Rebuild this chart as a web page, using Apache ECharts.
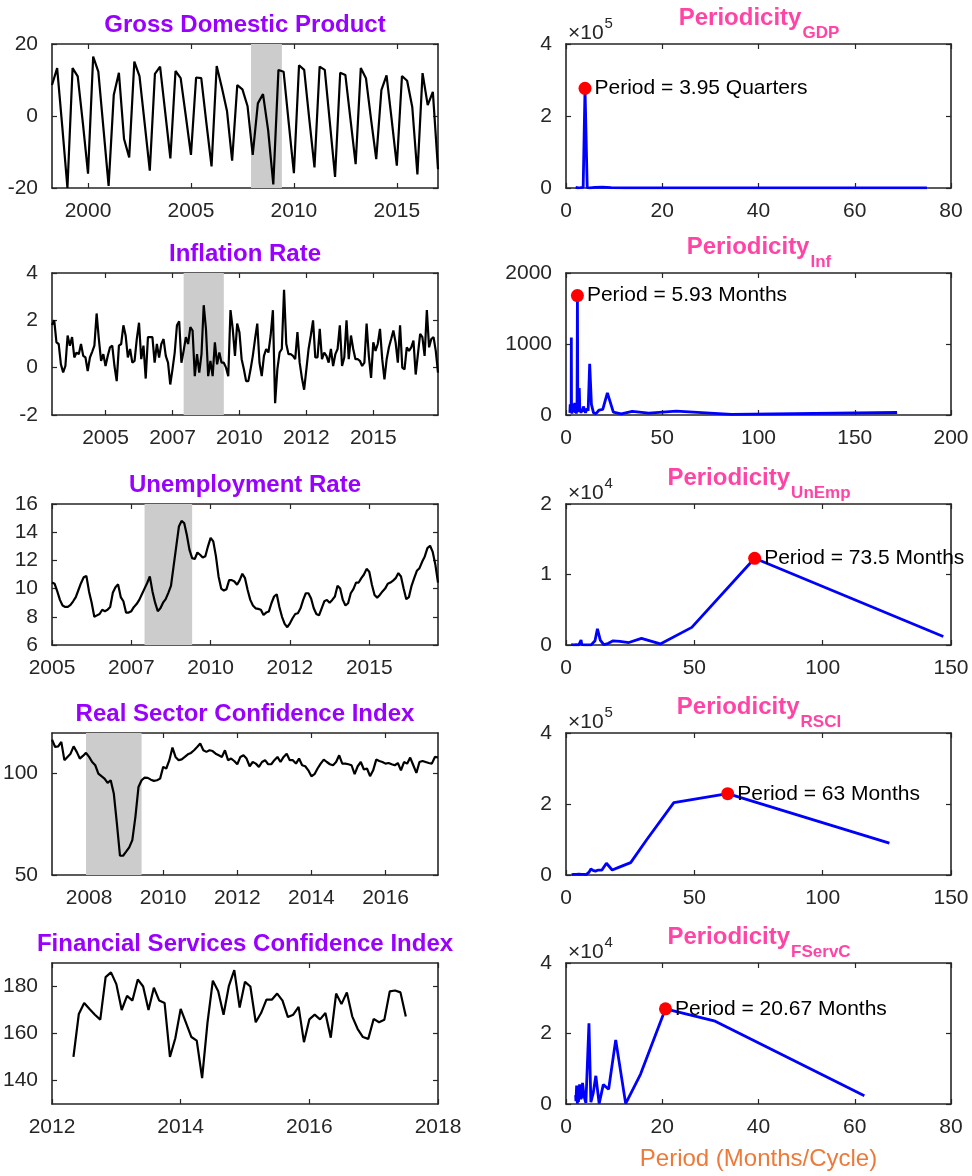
<!DOCTYPE html>
<html><head><meta charset="utf-8">
<script src="https://cdn.jsdelivr.net/npm/echarts@6/dist/echarts.min.js"></script>
<style>html,body{margin:0;padding:0;background:#fff}#c{width:972px;height:1176px}</style>
</head><body><div id="c"></div>
<script>
// ---------------- DATA ----------------
const recession = [2007.917, 2009.417];

// GDP (quarterly)
const gdpStart = 1998.25, gdpPerYear = 4;
const gdpValues = [8.6,13.3,-3,-20,13.3,11,-2,-16,16.5,12.3,-3.5,-19.4,5.8,12,-6.4,-11.5,15.1,11.1,-2,-15.2,
  11.7,13.7,1,-11.8,12.5,10.5,0,-10.8,10.7,10.5,-2,-14,13.9,7.9,1.4,-12.4,8.6,7.4,2.7,-10.8,
  3.5,6.1,-4,-19,12.8,12.3,-2,-15.9,14.1,12.8,-1,-14.3,13.7,12.8,-2,-16.9,12,11.4,-1,-13.4,
  13.3,10.5,-1,-12,7.2,11.3,-1,-13.8,11.1,9.8,2.5,-16.2,11.9,3,6.7,-14.8];

// Inflation (monthly)
const infStart = 2003.0, infPerYear = 12;
const infValues = [1.8,2.0,1.07,1.0,0.14,-0.2,0.07,1.36,0.93,1.29,
  0.43,0.64,0.57,1.0,0.5,0.43,-0.14,0.43,0.67,0.93,
  2.29,1.21,0.29,0.57,0.07,0.5,0.86,0.93,0.07,-0.57,
  0.93,1.0,1.79,1.36,0.43,0.79,0.21,0.29,1.21,1.9,
  0.36,0.93,-0.46,1.29,1.29,1.29,0.21,1.0,0.43,1.0,
  1.21,0.5,0.21,-0.71,-0.07,0.64,1.79,1.96,0.21,0.71,
  1.29,1.0,1.71,1.57,-0.36,0.57,-0.21,0.57,2.64,1.64,
  -0.36,0.29,-0.36,1.07,0.14,0.64,0.21,0.21,0.0,-0.36,
  2.43,1.64,0.5,1.86,1.5,0.36,-0.07,-0.57,-0.57,-0.07,
  0.5,1.21,1.86,0.21,-0.36,0.5,0.79,0.64,1.36,2.43,
  -1.5,-0.07,0.64,0.79,3.29,1.0,0.57,0.57,0.5,0.36,
  1.5,0.21,-0.43,-0.93,-0.07,0.79,1.36,2.0,0.43,0.43,
  1.64,0.36,0.64,0.5,0.21,0.79,0.07,0.57,0.79,1.79,
  0.07,0.43,2.0,0.36,1.36,0.79,0.36,0.36,0.29,0.07,
  0.21,1.86,0.5,-0.43,1.07,0.71,1.0,1.64,0.36,-0.5,
  0.36,0.86,1.21,1.57,1.07,0.21,1.79,0.0,-0.07,0.86,
  0.71,0.86,1.14,-0.29,0.57,1.43,1.29,0.5,2.43,0.86,
  1.21,1.29,0.71,-0.21];

// Unemployment (monthly)
const unStart = 2005.0, unPerYear = 12;
const unValues = [10.43,10.34,9.8,9.2,8.8,8.7,8.7,8.84,9.1,9.4,
  9.9,10.4,10.8,10.9,9.8,9.0,8.0,8.1,8.2,8.5,
  8.4,8.5,8.7,9.7,10.1,10.3,9.4,9.1,8.3,8.3,
  8.4,8.7,8.9,9.2,9.6,10.0,10.4,10.86,9.8,9.0,
  8.4,8.6,9.0,9.25,9.7,10.2,11.6,13.0,14.4,14.8,
  14.65,13.8,12.75,12.16,12.1,12.56,12.4,12.2,12.3,13.0,
  13.6,13.35,12.3,10.86,10.0,9.86,9.96,10.6,10.6,10.5,
  10.27,10.6,11.05,10.74,9.9,9.2,8.8,8.6,8.56,8.5,
  8.13,8.3,8.37,8.96,9.44,9.6,8.7,8.0,7.5,7.26,
  7.54,7.9,8.2,8.25,8.6,9.2,9.67,9.67,9.3,8.6,
  8.2,8.1,8.6,9.1,9.2,9.0,9.2,9.44,10.2,10.0,
  9.2,8.8,8.96,9.67,9.96,10.43,10.43,10.74,11.0,11.4,
  11.2,10.27,9.55,9.36,9.55,9.8,10.0,10.34,10.43,10.57,
  10.74,11.1,10.86,10.0,9.25,9.4,10.2,10.74,11.26,11.45,
  11.9,12.28,12.87,13.04,12.6,11.7,10.43];

// Real Sector Confidence Index (monthly)
const rsStart = 2007.0, rsPerYear = 12;
const rsValues = [116.7,113.1,113.4,115.6,106.6,108.2,109.8,113.4,110.7,107.4,
  108.7,110.2,108.2,105.7,104.1,100,98.7,97.5,95.4,96.7,
  90.2,75.4,59.5,59.5,61.5,63.6,67.2,78.7,93.4,96.7,
  98.0,97.9,97.0,96.4,96.7,97.5,103.3,102.5,106.6,112.8,
  108.2,106.6,107.0,108.2,109.5,110.2,111.5,113.1,114.8,111.5,
  110.7,111.5,111.1,109.8,109.0,108.2,111.5,106.6,107.4,
  106.2,104.6,108.2,109.0,107.4,103.6,105.7,104.9,103.3,
  105.7,106.6,104.6,104.6,106.6,108.2,105.7,108.2,109.8,106.6,
  106.6,104.9,107.4,104.1,103.6,101.6,98.7,99.7,102.5,104.9,
  106.9,105.7,104.6,104.1,105.7,109.0,104.9,104.9,104.6,104.1,
  99.7,103.6,105.7,102.0,102.5,98.7,101.6,106.9,106.2,
  105.7,104.9,105.2,104.6,104.1,105.2,101.6,105.7,
  104.9,107.9,104.1,100.3,105.7,106.2,105.7,105.2,104.9,108.2,
  107.9];

// Financial Services Confidence Index (monthly)
const fsStart = 2012.333, fsPerYear = 12;
const fsValues = [150.1,168.3,173,170.4,168,165.9,184,186,181,170,
  176,174,183,180,170,179.5,174,173,150,158,
  170.5,164.5,158.5,157,141,164.5,182.5,178,168,180.3,
  187,171,182,180,164.8,168.7,174.4,174.4,177,174,
  167,168,171.3,156.3,166,168,166,168.7,158.2,177,
  172.5,177.5,167.3,162,158.5,157.7,166.2,164.8,165.9,177.9,
  178.3,177.5,167.2];

// Periodograms: period (x) and power (y)
const gdpPeriod = [2.0,2.5,3.0,3.57,3.95,4.41,5.0,6.0,7.5,9.4,12.5,18.75,25,37.5,75];
const gdpPower  = [2000,500,800,1500,277000,1000,500,1500,2500,800,500,300,200,300,400];
const gdpPeak = [3.95, 277000], gdpPeakText = 'Period = 3.95 Quarters';

const infPeriod = [2.0,2.2,2.4,2.67,2.77,2.87,3.1,3.4,3.7,4.0,4.3,4.6,4.9,5.06,5.21,5.38,5.55,5.73,5.93,6.14,
  6.37,6.62,6.88,7.17,7.48,7.82,8.19,8.6,9.05,9.56,10.1,10.8,11.5,12.3,13.2,14.3,15.6,17.2,19.1,21.5,
  24.6,28.7,34.4,43,57.3,86,172];
const infPower  = [30,150,120,40,1090,60,20,160,40,120,60,170,30,150,50,20,100,60,1682,40,
  120,50,380,100,90,30,80,50,120,100,30,90,60,720,150,30,20,70,80,310,
  40,15,50,25,55,10,35];
const infPeak = [5.93, 1682], infPeakText = 'Period = 5.93 Months';

const unPeriod = [2.0,3,4,5,5.65,5.88,6.13,7,8,9,9.8,10.5,11.3,12.25,13.36,14.7,16.33,18.375,21,24.5,29.4,36.75,49,73.5,147];
const unPower  = [50,30,40,30,50,700,40,30,20,30,20,50,600,2300,700,50,200,600,500,350,950,150,2500,12300,1200];
const unPeak = [73.5, 12300], unPeakText = 'Period = 73.5 Months';

const rsPeriod = [2.2,3,4,5,6,7,7.875,8.4,9,9.69,10.5,11.45,12.6,14,15.75,18,21,25.2,31.5,42,63,126];
const rsPower  = [1000,2000,1500,2500,1500,2000,1000,5000,8000,17000,13000,11000,14000,14000,33000,14000,23000,35000,100000,204000,229000,90000];
const rsPeak = [63, 229000], rsPeakText = 'Period = 63 Months';

const fsPeriod = [2.0,2.07,2.14,2.21,2.3,2.38,2.48,2.58,2.7,2.82,2.95,3.1,3.26,3.44,3.65,3.875,4.13,4.43,4.77,5.17,
  5.64,6.2,6.89,7.75,8.86,10.33,12.4,15.5,20.67,31,62];
const fsPower  = [2500,800,3000,5200,1500,100,5200,600,2500,5600,3000,1400,2000,6000,3500,1500,300,200,22900,500,
  3000,8000,100,5500,4200,18200,100,8500,27000,23500,2350];
const fsPeak = [20.67, 27000], fsPeakText = 'Period = 20.67 Months';

// Titles and tick labels
const leftTitles = ['Gross Domestic Product','Inflation Rate','Unemployment Rate','Real Sector Confidence Index','Financial Services Confidence Index'];
const rightSubs = ['GDP','Inf','UnEmp','RSCI','FServC'];
const rightExp = ['5', '', '4', '5', '4'];
const xLabelText = 'Period (Months/Cycle)';

const gdpXTicks = [2000,2005,2010,2015], gdpXLabels = ['2000','2005','2010','2015'];
const infXTicks = [2005,2007.5,2010,2012.5,2015], infXLabels = ['2005','2007','2010','2012','2015'];
const unXTicks = [2005,2007.5,2010,2012.5,2015], unXLabels = ['2005','2007','2010','2012','2015'];
const rsXTicks = [2008,2010,2012,2014,2016], rsXLabels = ['2008','2010','2012','2014','2016'];
const fsXTicks = [2012,2014,2016,2018], fsXLabels = ['2012','2014','2016','2018'];
const gdpYTicks = [-20,0,20], gdpYLabels = ['-20','0','20'];
const infYTicks = [-2,0,2,4], infYLabels = ['-2','0','2','4'];
const unYTicks = [6,8,10,12,14,16], unYLabels = ['6','8','10','12','14','16'];
const rsYTicks = [50,100], rsYLabels = ['50','100'];
const fsYTicks = [140,160,180], fsYLabels = ['140','160','180'];

const pX80Ticks = [0,20,40,60,80], pX80Labels = ['0','20','40','60','80'];
const pX150Ticks = [0,50,100,150], pX150Labels = ['0','50','100','150'];
const pX200Ticks = [0,50,100,150,200], pX200Labels = ['0','50','100','150','200'];
const pGdpYTicks = [0,200000,400000], pGdpYLabels = ['0','2','4'];
const pInfYTicks = [0,1000,2000], pInfYLabels = ['0','1000','2000'];
const pUnYTicks = [0,10000,20000], pUnYLabels = ['0','1','2'];
const pRsYTicks = [0,200000,400000], pRsYLabels = ['0','2','4'];
const pFsYTicks = [0,20000,40000], pFsYLabels = ['0','2','4'];

// ---------------- LAYOUT / STYLE ----------------
const FONT = '"Liberation Sans", Arial, Helvetica, sans-serif';
const AXC = '#262626';
const PURPLE = '#9900FF', PINK = '#FF44A6', ORANGE = '#EE7A3A';
const tops = [44, 273, 504, 733, 963];
const heights = [144, 142, 141, 142, 141];
const LEFT_X = 52, LEFT_W = 386, RIGHT_X = 566, RIGHT_W = 385;

const grid = [], xAxis = [], yAxis = [], series = [], graphic = [];

function lab(v, ticks, labels) {
  for (let i = 0; i < ticks.length; i++) if (Math.abs(ticks[i] - v) < 1e-6) return labels[i];
  return '';
}
function addPanel(left, width, row, xr, xt, xl, yr, yt, yl) {
  const gi = grid.length;
  grid.push({left: left, top: tops[row], width: width, height: heights[row], containLabel: false});
  const line = {show: true, onZero: false, lineStyle: {color: AXC, width: 1.6}};
  const tick = (t) => ({show: true, inside: true, length: 5, customValues: t, lineStyle: {color: AXC, width: 1.2}});
  const lbl = {color: AXC, fontSize: 21, fontFamily: FONT};
  xAxis.push({gridIndex: gi, type: 'value', position: 'bottom', min: xr[0], max: xr[1],
    axisLine: line, axisTick: tick(xt), splitLine: {show: false},
    axisLabel: Object.assign({customValues: xt, margin: 13, formatter: v => lab(v, xt, xl)}, lbl)});
  xAxis.push({gridIndex: gi, type: 'value', position: 'top', min: xr[0], max: xr[1],
    axisLine: line, axisTick: tick(xt), splitLine: {show: false}, axisLabel: {show: false}});
  yAxis.push({gridIndex: gi, type: 'value', position: 'left', min: yr[0], max: yr[1],
    axisLine: line, axisTick: tick(yt), splitLine: {show: false},
    axisLabel: Object.assign({customValues: yt, margin: 14, formatter: v => lab(v, yt, yl)}, lbl)});
  yAxis.push({gridIndex: gi, type: 'value', position: 'right', min: yr[0], max: yr[1],
    axisLine: line, axisTick: tick(yt), splitLine: {show: false}, axisLabel: {show: false}});
  return 2 * gi;
}
function timeSeries(ai, start, perYear, vals, band) {
  const s = {type: 'line', xAxisIndex: ai, yAxisIndex: ai, showSymbol: false, symbol: 'none',
    data: vals.map((v, i) => [start + i / perYear, v]),
    lineStyle: {color: '#000', width: 2.2}, itemStyle: {color: '#000'}, z: 3, animation: false};
  if (band) s.markArea = {silent: true, itemStyle: {color: '#cccccc', opacity: 1},
    data: [[{xAxis: band[0]}, {xAxis: band[1]}]]};
  series.push(s);
}
function periodSeries(ai, per, pow, peak, txt) {
  series.push({type: 'line', xAxisIndex: ai, yAxisIndex: ai, showSymbol: false, symbol: 'none',
    data: per.map((p, i) => [p, pow[i]]), lineStyle: {color: '#0000FF', width: 2.8}, z: 3, animation: false});
  series.push({type: 'scatter', xAxisIndex: ai, yAxisIndex: ai, data: [peak], symbolSize: 13,
    itemStyle: {color: '#FF0000', opacity: 1}, z: 5, animation: false,
    label: {show: true, position: 'right', distance: 3, formatter: txt, color: '#000', fontSize: 21, fontFamily: FONT}});
}

// Left column
let a;
a = addPanel(LEFT_X, LEFT_W, 0, [1998.25, 2017.0], gdpXTicks, gdpXLabels, [-20, 20], gdpYTicks, gdpYLabels);
timeSeries(a, gdpStart, gdpPerYear, gdpValues, recession);
a = addPanel(LEFT_X, LEFT_W, 1, [infStart, infStart + (infValues.length - 1) / infPerYear], infXTicks, infXLabels, [-2, 4], infYTicks, infYLabels);
timeSeries(a, infStart, infPerYear, infValues, recession);
a = addPanel(LEFT_X, LEFT_W, 2, [unStart, unStart + (unValues.length - 1) / unPerYear], unXTicks, unXLabels, [6, 16], unYTicks, unYLabels);
timeSeries(a, unStart, unPerYear, unValues, recession);
a = addPanel(LEFT_X, LEFT_W, 3, [rsStart, rsStart + (rsValues.length - 1) / rsPerYear], rsXTicks, rsXLabels, [50, 120], rsYTicks, rsYLabels);
timeSeries(a, rsStart, rsPerYear, rsValues, recession);
a = addPanel(LEFT_X, LEFT_W, 4, [2012, 2018], fsXTicks, fsXLabels, [130, 190], fsYTicks, fsYLabels);
timeSeries(a, fsStart, fsPerYear, fsValues, null);

// Right column
a = addPanel(RIGHT_X, RIGHT_W, 0, [0, 80], pX80Ticks, pX80Labels, [0, 400000], pGdpYTicks, pGdpYLabels);
periodSeries(a, gdpPeriod, gdpPower, gdpPeak, gdpPeakText);
a = addPanel(RIGHT_X, RIGHT_W, 1, [0, 200], pX200Ticks, pX200Labels, [0, 2000], pInfYTicks, pInfYLabels);
periodSeries(a, infPeriod, infPower, infPeak, infPeakText);
a = addPanel(RIGHT_X, RIGHT_W, 2, [0, 150], pX150Ticks, pX150Labels, [0, 20000], pUnYTicks, pUnYLabels);
periodSeries(a, unPeriod, unPower, unPeak, unPeakText);
a = addPanel(RIGHT_X, RIGHT_W, 3, [0, 150], pX150Ticks, pX150Labels, [0, 400000], pRsYTicks, pRsYLabels);
periodSeries(a, rsPeriod, rsPower, rsPeak, rsPeakText);
a = addPanel(RIGHT_X, RIGHT_W, 4, [0, 80], pX80Ticks, pX80Labels, [0, 40000], pFsYTicks, pFsYLabels);
periodSeries(a, fsPeriod, fsPower, fsPeak, fsPeakText);

// Text: titles
const mctx = document.createElement('canvas').getContext('2d');
function tw(font, t) { mctx.font = font; return mctx.measureText(t).width; }
function txt(t, x, y, font, fill, align, valign) {
  graphic.push({type: 'text', silent: true, z: 10, style: {text: t, x: x, y: y, font: font, fill: fill,
    textAlign: align, align: align, textVerticalAlign: valign, verticalAlign: valign}});
}
const FT = 'bold 24px ' + FONT, FS = 'bold 17px ' + FONT, FN = '21px ' + FONT, FSUP = '15px ' + FONT;
leftTitles.forEach((t, r) => txt(t, LEFT_X + LEFT_W / 2, tops[r] - 19, FT, PURPLE, 'center', 'middle'));
rightSubs.forEach((s, r) => {
  const wm = tw(FT, 'Periodicity'), ws = tw(FS, s);
  const x0 = RIGHT_X + RIGHT_W / 2 - (wm + ws) / 2;
  txt('Periodicity', x0, tops[r] - 26, FT, PINK, 'left', 'middle');
  txt(s, x0 + wm + 1, tops[r] - 11, FS, PINK, 'left', 'middle');
  if (rightExp[r]) {
    const w10 = tw(FN, '\u00d710');
    txt('\u00d710', RIGHT_X + 2, tops[r] - 11, FN, AXC, 'left', 'middle');
    txt(rightExp[r], RIGHT_X + 2 + w10 + 1, tops[r] - 20, FSUP, AXC, 'left', 'middle');
  }
});
txt(xLabelText, RIGHT_X + RIGHT_W / 2, 1159, '24px ' + FONT, ORANGE, 'center', 'middle');

const chart = echarts.init(document.getElementById('c'), null, {renderer: 'canvas'});
chart.setOption({backgroundColor: '#ffffff', animation: false, grid, xAxis, yAxis, series, graphic});
</script>
</body></html>
